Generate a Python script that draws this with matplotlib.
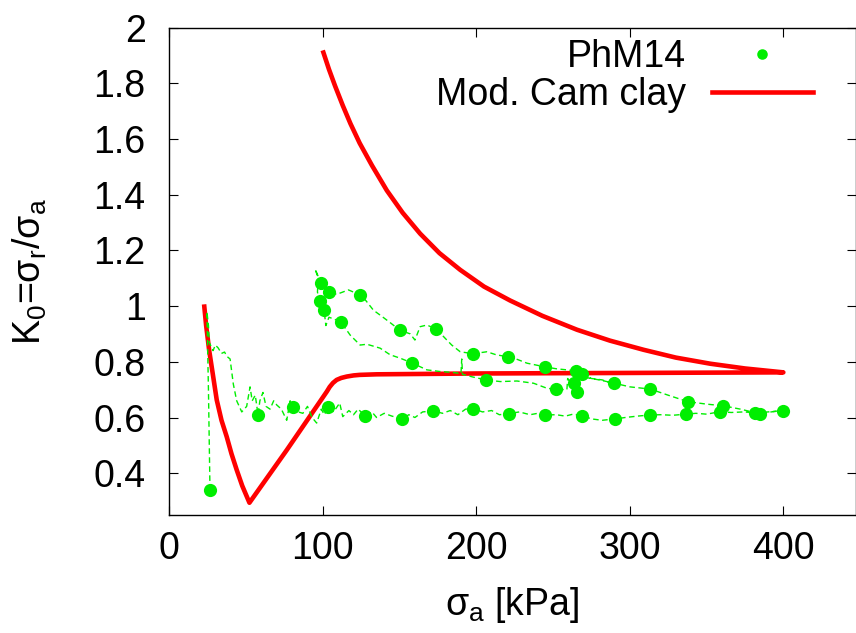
import matplotlib
matplotlib.use('Agg')
import matplotlib.pyplot as plt

plt.rcParams['font.family'] = ['Liberation Sans', 'DejaVu Sans']
plt.rcParams['mathtext.fontset'] = 'custom'
plt.rcParams['mathtext.rm'] = 'Liberation Sans'
plt.rcParams['mathtext.it'] = 'Liberation Sans'
plt.rcParams['mathtext.default'] = 'regular'

# --- measured data PhM14: dense record (dashed) ---
sig_line = [26.5, 25.5, 24.5, 25.5, 26.0, 28.5, 30.0, 31.8, 34.0, 36.0, 37.4, 39.6, 41.7, 43.9, 47.2,
            50.4, 52.6, 54.0, 56.0, 57.8, 59.0, 61.0, 63.0, 65.6, 68.0, 70.0, 73.0, 76.5, 78.7, 80.8,
            84.0, 87.0, 90.0, 93.0, 96.0, 99.0, 101.0, 103.6, 107.0, 111.0, 113.0, 117.0, 120.0, 123.0,
            127.6, 132.0, 135.0, 140.0, 145.0, 151.8, 156.0, 160.0, 165.0, 172.0, 178.0, 183.0, 188.0,
            193.0, 198.0, 204.0, 210.0, 215.0, 221.5, 228.0, 235.0, 240.0, 245.0, 252.0, 258.0, 263.0,
            268.8, 275.0, 282.0, 290.5, 297.0, 305.0, 313.0, 320.0, 328.0, 336.6, 343.0, 350.0, 359.0,
            366.0, 374.0, 381.8, 390.0, 400.0,
            # unloading
            392.0, 385.0, 372.0, 361.0, 350.0, 337.7, 325.0, 313.4, 300.0, 290.0, 280.0, 270.0, 265.1,
            259.0, 252.0, 244.5, 233.0, 226.0, 220.6, 213.0, 206.9, 197.8, 189.5, 184.0, 180.8, 177.0,
            173.6, 167.8, 163.4, 160.0, 157.0, 150.0, 144.0, 138.0, 133.0, 128.0, 124.3, 120.0, 116.7,
            109.0, 104.3, 98.7, 95.0,
            # reloading
            97.0, 96.5, 98.2, 100.8, 102.0, 104.0, 111.7, 117.8, 124.3, 128.7, 137.3, 143.9, 150.4,
            158.4, 167.8, 176.5, 184.0, 190.0, 190.5, 191.0, 198.0, 206.2, 215.6, 226.5, 237.3, 246.0,
            252.1, 259.0, 259.5, 265.6, 263.0, 263.8, 268.8, 275.0, 282.0, 290.0]
k0_line = [0.34, 0.70, 0.98, 0.93, 0.87, 0.84, 0.86, 0.85, 0.83, 0.835, 0.82, 0.81, 0.72, 0.66, 0.62,
           0.64, 0.71, 0.66, 0.68, 0.61, 0.66, 0.69, 0.64, 0.63, 0.66, 0.645, 0.63, 0.59, 0.66, 0.638,
           0.62, 0.615, 0.64, 0.60, 0.58, 0.63, 0.61, 0.638, 0.62, 0.652, 0.603, 0.625, 0.61, 0.63,
           0.606, 0.62, 0.60, 0.615, 0.605, 0.595, 0.61, 0.60, 0.62, 0.624, 0.615, 0.625, 0.61,
           0.63, 0.632, 0.62, 0.625, 0.61, 0.614, 0.62, 0.61, 0.615, 0.609, 0.61, 0.605, 0.612,
           0.607, 0.595, 0.59, 0.595, 0.60, 0.605, 0.609, 0.61, 0.608, 0.612, 0.615, 0.612, 0.621,
           0.618, 0.62, 0.617, 0.62, 0.625,
           0.62, 0.613, 0.63, 0.642, 0.648, 0.657, 0.68, 0.702, 0.71, 0.723, 0.735, 0.745, 0.767,
           0.771, 0.775, 0.782, 0.795, 0.81, 0.818, 0.825, 0.836, 0.829, 0.836, 0.86, 0.878, 0.90,
           0.918, 0.932, 0.926, 0.878, 0.90, 0.914, 0.94, 0.965, 0.985, 1.02, 1.04, 1.05, 1.058,
           1.042, 1.05, 1.084, 1.133,
           1.10, 1.05, 1.019, 0.986, 0.93, 0.96, 0.944, 0.896, 0.86, 0.863, 0.849, 0.825, 0.813,
           0.795, 0.771, 0.765, 0.762, 0.758, 0.81, 0.755, 0.745, 0.735, 0.729, 0.731, 0.723, 0.705,
           0.701, 0.70, 0.74, 0.693, 0.72, 0.76, 0.755, 0.74, 0.735, 0.72]

# --- measured data PhM14: plotted symbols ---
sig_pts = [26.5, 57.8, 80.8, 103.6, 127.6, 151.8, 172.0, 198.0, 221.5, 245.0, 268.8, 290.5, 313.0,
           336.6, 359.0, 381.8, 400.0, 385.0, 361.0, 337.7, 313.4, 290.0, 265.1, 244.5, 220.6, 197.8,
           173.6, 150.0, 124.3, 104.3, 98.7, 98.2, 100.8, 111.7, 158.4, 206.2, 252.1, 265.6, 263.8, 268.8]
k0_pts = [0.34, 0.61, 0.638, 0.638, 0.606, 0.595, 0.624, 0.632, 0.614, 0.609, 0.607, 0.595, 0.609,
          0.612, 0.621, 0.617, 0.625, 0.613, 0.642, 0.657, 0.702, 0.723, 0.767, 0.782, 0.818, 0.829,
          0.918, 0.914, 1.040, 1.050, 1.084, 1.019, 0.986, 0.944, 0.795, 0.735, 0.701, 0.693, 0.723, 0.755]

# --- Modified Cam clay simulation ---
sig_mcc = [22.8, 24.0, 26.0, 28.5, 30.9, 34.0, 37.4, 40.5, 43.9, 47.5, 52.2, 76.5, 102.6, 104.5,
           106.6, 109.0, 112.0, 115.6, 120.0, 124.0, 135.0, 200.0, 300.0, 400.0,
           375.0, 352.5, 330.0, 309.0, 287.0, 265.6, 243.0, 222.0, 205.0, 189.5, 176.0, 163.4, 152.0,
           141.7, 132.0, 124.0, 118.0, 113.0, 108.0, 104.0, 100.4]
k0_mcc = [0.998, 0.93, 0.84, 0.75, 0.663, 0.59, 0.531, 0.47, 0.412, 0.355, 0.294, 0.483, 0.693, 0.710,
          0.724, 0.735, 0.742, 0.747, 0.751, 0.753, 0.755, 0.758, 0.760, 0.762,
          0.776, 0.793, 0.815, 0.843, 0.876, 0.915, 0.965, 1.02, 1.07, 1.13, 1.19, 1.26, 1.335,
          1.415, 1.505, 1.585, 1.655, 1.72, 1.79, 1.85, 1.91]

green = '#00ee00'

fig = plt.figure(figsize=(8.56, 6.33), dpi=100)
ax = fig.add_axes([169.3/856, 1-515/633, (855.5-169.3)/856, (515-27.5)/633])

ax.plot(sig_line, k0_line, color=green, lw=1.0, dashes=(4, 2.5), zorder=3, label='_nolegend_')
ax.plot(sig_pts, k0_pts, 'o', color=green, ms=9.5, mew=0, zorder=4, label='PhM14')
ax.plot(sig_mcc, k0_mcc, color='#ff0000', lw=3.3, zorder=2, label='Mod. Cam clay')

ax.set_xlim(0, 447)
ax.set_ylim(0.25, 2.0)
ax.set_xticks([0, 100, 200, 300, 400])
yt = [0.4, 0.6, 0.8, 1.0, 1.2, 1.4, 1.6, 1.8, 2.0]
ax.set_yticks(yt)
ax.set_yticklabels(['%g' % v for v in yt])

ax.tick_params(direction='in', length=6.5, width=0.8, top=True, right=True, labelsize=27)
ax.tick_params(axis='x', pad=11.5)
ax.tick_params(axis='y', pad=17)
for s in ax.spines.values():
    s.set_linewidth(1.0)

ax.set_xlabel('σ$_a$ [kPa]', fontsize=27, labelpad=13)
ax.set_ylabel('K$_0$=σ$_r$/σ$_a$', fontsize=27, labelpad=32)

ax.legend(loc='upper right', bbox_to_anchor=(813/856, 1-39/633), bbox_transform=fig.transFigure,
          frameon=False, markerfirst=False, fontsize=27, handlelength=2.7, handletextpad=0.7,
          labelspacing=0.05, borderpad=0, borderaxespad=0, markerscale=0.8)

fig.savefig('out.png', dpi=100)
